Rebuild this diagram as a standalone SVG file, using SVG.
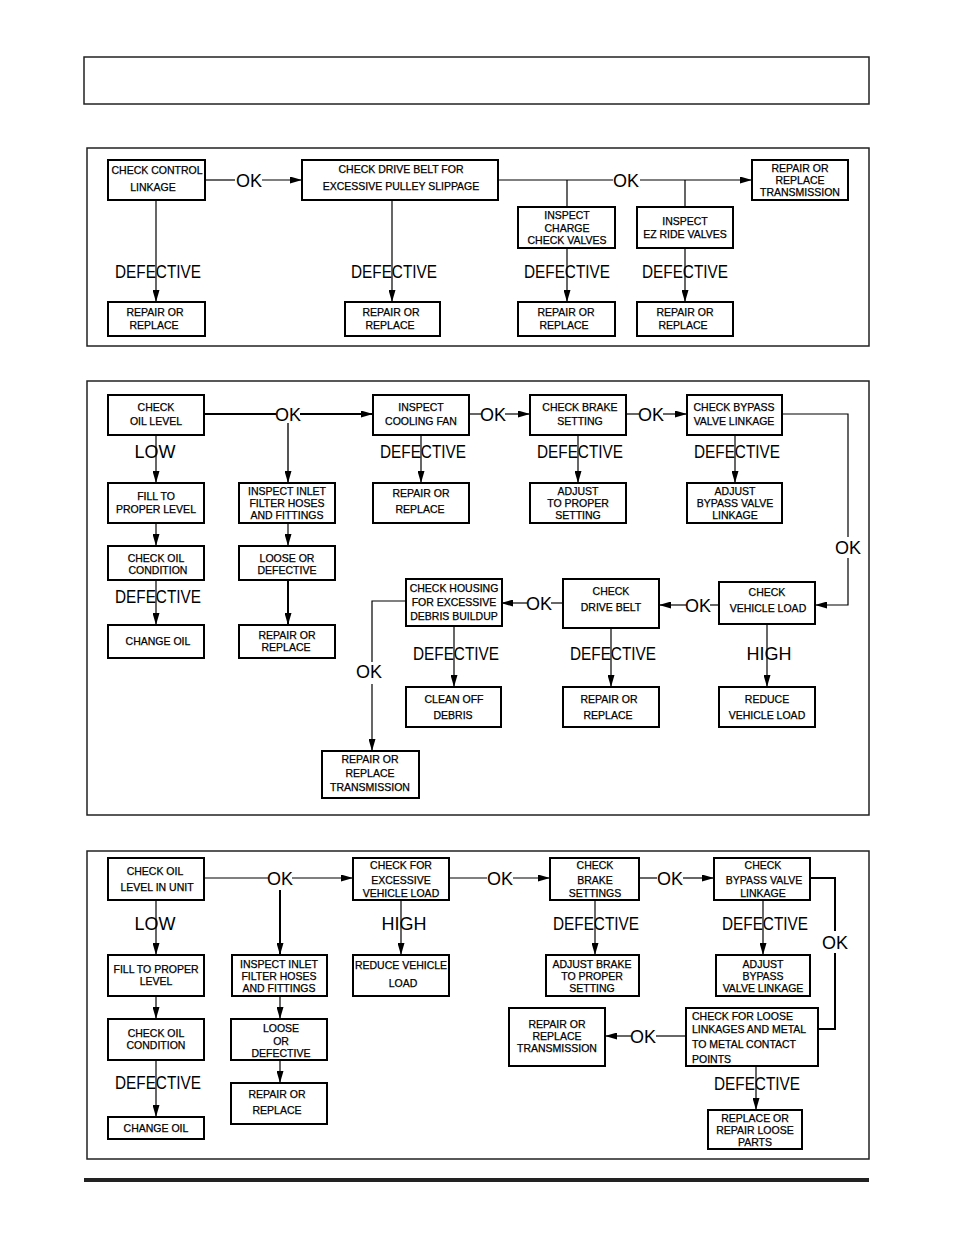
<svg xmlns="http://www.w3.org/2000/svg" width="954" height="1235" viewBox="0 0 954 1235">
<defs>
<style>
.frame{fill:none;stroke:#222;stroke-width:1.5}
.b{fill:#fff;stroke:#000;stroke-width:2}
.t{font-family:"Liberation Sans",Arial,sans-serif;font-size:10.5px;text-anchor:middle;fill:#000;stroke:#000;stroke-width:0.25}
.tl{font-family:"Liberation Sans",Arial,sans-serif;font-size:10.5px;text-anchor:start;fill:#000;stroke:#000;stroke-width:0.25}
.l{font-family:"Liberation Sans",Arial,sans-serif;font-size:18px;text-anchor:middle;fill:#000}
.c{stroke:#000;stroke-width:1.2;fill:none}
.ca{stroke:#000;stroke-width:1.2;fill:none;marker-end:url(#a)}
.thick{stroke-width:2}
</style>
<marker id="a" markerWidth="12" markerHeight="7" refX="12" refY="3.5" orient="auto" markerUnits="userSpaceOnUse">
<path d="M0,0 L12,3.5 L0,7 z" fill="#000"/>
</marker>
</defs>
<rect width="954" height="1235" fill="#fff"/>
<rect class="frame" x="84" y="57" width="785" height="47"/>
<rect class="frame" x="87" y="148" width="782" height="198"/>
<rect class="frame" x="87" y="381" width="782" height="434"/>
<rect class="frame" x="87" y="851" width="782" height="308"/>
<rect x="84" y="1178" width="785" height="4" fill="#222"/>

<g id="connectors">
<!-- section 1 -->
<path class="c" d="M205,180 H235"/>
<path class="ca" d="M262,180 H302"/>
<path class="c" d="M498,180 H613"/>
<path class="ca" d="M640,180 H752"/>
<path class="c" d="M567,180 V207 M685,180 V207"/>
<path class="ca" d="M156,200 V302"/>
<path class="ca" d="M392,200 V302"/>
<path class="ca" d="M567,248 V302"/>
<path class="ca" d="M685,248 V302"/>
<!-- section 2 -->
<path class="c thick" d="M204,414 H276"/>
<path class="ca thick" d="M300,414 H373"/>
<path class="ca thick" d="M288,423 V483" style="stroke:#555"/>
<path class="ca" d="M156,435 V483"/>
<path class="ca" d="M156,523 V546"/>
<path class="ca" d="M156,580 V625"/>
<path class="ca" d="M288,523 V546"/>
<path class="ca thick" d="M288,580 V625"/>
<path class="c" d="M469,414 H481"/>
<path class="ca" d="M505,414 H530"/>
<path class="ca" d="M421,435 V483"/>
<path class="c" d="M626,414 H639"/>
<path class="ca" d="M663,414 H687"/>
<path class="ca" d="M578,435 V483"/>
<path class="ca" d="M735,435 V483"/>
<path class="c" d="M782,414 H848 V537"/>
<path class="ca" d="M848,558 V605 H815"/>
<path class="c" d="M719,605 H710"/>
<path class="ca" d="M686,605 H659"/>
<path class="ca" d="M767,624 V687"/>
<path class="c" d="M563,603 H551"/>
<path class="ca" d="M527,603 H501"/>
<path class="ca" d="M611,628 V687"/>
<path class="ca" d="M454,626 V687"/>
<path class="c" d="M406,601 H372 V662"/>
<path class="ca" d="M372,684 V751"/>
<!-- section 3 -->
<path class="c" d="M204,878 H268"/>
<path class="ca" d="M292,878 H353"/>
<path class="ca thick" d="M280,890 V955"/>
<path class="ca" d="M156,900 V955"/>
<path class="ca" d="M156,996 V1019"/>
<path class="ca" d="M156,1060 V1117"/>
<path class="ca" d="M280,996 V1019"/>
<path class="ca" d="M280,1060 V1083"/>
<path class="c" d="M449,878 H487"/>
<path class="ca" d="M513,878 H550"/>
<path class="ca" d="M401,900 V955"/>
<path class="c" d="M639,878 H657"/>
<path class="ca" d="M683,878 H714"/>
<path class="ca" d="M595,900 V955"/>
<path class="ca" d="M763,900 V955"/>
<path class="c thick" d="M810,878 H835 V931"/>
<path class="c thick" d="M835,953 V1029 H818"/>
<path class="c" d="M686,1036 H656"/>
<path class="ca" d="M631,1036 H605"/>
<path class="ca" d="M756,1066 V1110"/>
</g>

<g id="labels">
<text class="l" x="249" y="187">OK</text>
<text class="l" x="626" y="187">OK</text>
<text class="l" x="158" y="278" textLength="86" lengthAdjust="spacingAndGlyphs">DEFECTIVE</text>
<text class="l" x="394" y="278" textLength="86" lengthAdjust="spacingAndGlyphs">DEFECTIVE</text>
<text class="l" x="567" y="278" textLength="86" lengthAdjust="spacingAndGlyphs">DEFECTIVE</text>
<text class="l" x="685" y="278" textLength="86" lengthAdjust="spacingAndGlyphs">DEFECTIVE</text>

<text class="l" x="288" y="421">OK</text>
<text class="l" x="493" y="421">OK</text>
<text class="l" x="651" y="421">OK</text>
<text class="l" x="155" y="458">LOW</text>
<text class="l" x="423" y="458" textLength="86" lengthAdjust="spacingAndGlyphs">DEFECTIVE</text>
<text class="l" x="580" y="458" textLength="86" lengthAdjust="spacingAndGlyphs">DEFECTIVE</text>
<text class="l" x="737" y="458" textLength="86" lengthAdjust="spacingAndGlyphs">DEFECTIVE</text>
<text class="l" x="158" y="603" textLength="86" lengthAdjust="spacingAndGlyphs">DEFECTIVE</text>
<text class="l" x="848" y="554">OK</text>
<text class="l" x="698" y="612">OK</text>
<text class="l" x="539" y="610">OK</text>
<text class="l" x="456" y="660" textLength="86" lengthAdjust="spacingAndGlyphs">DEFECTIVE</text>
<text class="l" x="613" y="660" textLength="86" lengthAdjust="spacingAndGlyphs">DEFECTIVE</text>
<text class="l" x="769" y="660">HIGH</text>
<text class="l" x="369" y="678">OK</text>

<text class="l" x="280" y="885">OK</text>
<text class="l" x="500" y="885">OK</text>
<text class="l" x="670" y="885">OK</text>
<text class="l" x="155" y="930">LOW</text>
<text class="l" x="404" y="930">HIGH</text>
<text class="l" x="596" y="930" textLength="86" lengthAdjust="spacingAndGlyphs">DEFECTIVE</text>
<text class="l" x="765" y="930" textLength="86" lengthAdjust="spacingAndGlyphs">DEFECTIVE</text>
<text class="l" x="835" y="949">OK</text>
<text class="l" x="643" y="1043">OK</text>
<text class="l" x="158" y="1089" textLength="86" lengthAdjust="spacingAndGlyphs">DEFECTIVE</text>
<text class="l" x="757" y="1090" textLength="86" lengthAdjust="spacingAndGlyphs">DEFECTIVE</text>
</g>

<!-- Section 1 nodes -->
<g id="n1"><rect class="b" x="108" y="160" width="97" height="40"/><text class="t" x="157" y="174">CHECK CONTROL</text><text class="t" x="153" y="191">LINKAGE</text></g>
<g id="n2"><rect class="b" x="302" y="160" width="196" height="40"/><text class="t" x="401" y="173">CHECK DRIVE BELT FOR</text><text class="t" x="401" y="190">EXCESSIVE PULLEY SLIPPAGE</text></g>
<g id="n3"><rect class="b" x="518" y="207" width="97" height="41"/><text class="t" x="567" y="219">INSPECT</text><text class="t" x="567" y="232">CHARGE</text><text class="t" x="567" y="244">CHECK VALVES</text></g>
<g id="n4"><rect class="b" x="637" y="207" width="96" height="41"/><text class="t" x="685" y="225">INSPECT</text><text class="t" x="685" y="238">EZ RIDE VALVES</text></g>
<g id="n5"><rect class="b" x="752" y="160" width="96" height="40"/><text class="t" x="800" y="172">REPAIR OR</text><text class="t" x="800" y="184">REPLACE</text><text class="t" x="800" y="196">TRANSMISSION</text></g>
<g id="n6"><rect class="b" x="108" y="302" width="97" height="34"/><text class="t" x="155" y="316">REPAIR OR</text><text class="t" x="154" y="329">REPLACE</text></g>
<g id="n7"><rect class="b" x="345" y="302" width="95" height="34"/><text class="t" x="391" y="316">REPAIR OR</text><text class="t" x="390" y="329">REPLACE</text></g>
<g id="n8"><rect class="b" x="518" y="302" width="97" height="34"/><text class="t" x="566" y="316">REPAIR OR</text><text class="t" x="564" y="329">REPLACE</text></g>
<g id="n9"><rect class="b" x="637" y="302" width="96" height="34"/><text class="t" x="685" y="316">REPAIR OR</text><text class="t" x="683" y="329">REPLACE</text></g>

<!-- Section 2 nodes -->
<g id="m1"><rect class="b" x="108" y="395" width="96" height="40"/><text class="t" x="156" y="411">CHECK</text><text class="t" x="156" y="425">OIL LEVEL</text></g>
<g id="m2"><rect class="b" x="373" y="395" width="96" height="40"/><text class="t" x="421" y="411">INSPECT</text><text class="t" x="421" y="425">COOLING FAN</text></g>
<g id="m3"><rect class="b" x="530" y="395" width="96" height="40"/><text class="t" x="580" y="411">CHECK BRAKE</text><text class="t" x="580" y="425">SETTING</text></g>
<g id="m4"><rect class="b" x="687" y="395" width="95" height="40"/><text class="t" x="734" y="411">CHECK BYPASS</text><text class="t" x="734" y="425">VALVE LINKAGE</text></g>
<g id="m5"><rect class="b" x="108" y="483" width="96" height="40"/><text class="t" x="156" y="500">FILL TO</text><text class="t" x="156" y="513">PROPER LEVEL</text></g>
<g id="m6"><rect class="b" x="239" y="483" width="96" height="40"/><text class="t" x="287" y="495">INSPECT INLET</text><text class="t" x="287" y="507">FILTER HOSES</text><text class="t" x="287" y="519">AND FITTINGS</text></g>
<g id="m7"><rect class="b" x="373" y="483" width="96" height="40"/><text class="t" x="421" y="497">REPAIR OR</text><text class="t" x="420" y="513">REPLACE</text></g>
<g id="m8"><rect class="b" x="530" y="483" width="96" height="40"/><text class="t" x="578" y="495">ADJUST</text><text class="t" x="578" y="507">TO PROPER</text><text class="t" x="578" y="519">SETTING</text></g>
<g id="m9"><rect class="b" x="687" y="483" width="95" height="40"/><text class="t" x="735" y="495">ADJUST</text><text class="t" x="735" y="507">BYPASS VALVE</text><text class="t" x="735" y="519">LINKAGE</text></g>
<g id="m10"><rect class="b" x="108" y="546" width="96" height="34"/><text class="t" x="156" y="562">CHECK OIL</text><text class="t" x="158" y="574">CONDITION</text></g>
<g id="m11"><rect class="b" x="239" y="546" width="96" height="34"/><text class="t" x="287" y="562">LOOSE OR</text><text class="t" x="287" y="574">DEFECTIVE</text></g>
<g id="m12"><rect class="b" x="108" y="625" width="96" height="33"/><text class="t" x="158" y="645">CHANGE OIL</text></g>
<g id="m13"><rect class="b" x="239" y="625" width="96" height="33"/><text class="t" x="287" y="639">REPAIR OR</text><text class="t" x="286" y="651">REPLACE</text></g>
<g id="m14"><rect class="b" x="406" y="579" width="96" height="47"/><text class="t" x="454" y="592">CHECK HOUSING</text><text class="t" x="454" y="606">FOR EXCESSIVE</text><text class="t" x="454" y="620">DEBRIS BUILDUP</text></g>
<g id="m15"><rect class="b" x="563" y="579" width="96" height="49"/><text class="t" x="611" y="595">CHECK</text><text class="t" x="611" y="611">DRIVE BELT</text></g>
<g id="m16"><rect class="b" x="719" y="582" width="96" height="42"/><text class="t" x="767" y="596">CHECK</text><text class="t" x="768" y="612">VEHICLE LOAD</text></g>
<g id="m17"><rect class="b" x="406" y="687" width="95" height="40"/><text class="t" x="454" y="703">CLEAN OFF</text><text class="t" x="453" y="719">DEBRIS</text></g>
<g id="m18"><rect class="b" x="563" y="687" width="96" height="40"/><text class="t" x="609" y="703">REPAIR OR</text><text class="t" x="608" y="719">REPLACE</text></g>
<g id="m19"><rect class="b" x="719" y="687" width="96" height="40"/><text class="t" x="767" y="703">REDUCE</text><text class="t" x="767" y="719">VEHICLE LOAD</text></g>
<g id="m20"><rect class="b" x="322" y="751" width="97" height="47"/><text class="t" x="370" y="763">REPAIR OR</text><text class="t" x="370" y="777">REPLACE</text><text class="t" x="370" y="791">TRANSMISSION</text></g>

<!-- Section 3 nodes -->
<g id="k1"><rect class="b" x="108" y="858" width="96" height="42"/><text class="t" x="155" y="875">CHECK OIL</text><text class="t" x="157" y="891">LEVEL IN UNIT</text></g>
<g id="k2"><rect class="b" x="353" y="858" width="96" height="42"/><text class="t" x="401" y="869">CHECK FOR</text><text class="t" x="401" y="884">EXCESSIVE</text><text class="t" x="401" y="897">VEHICLE LOAD</text></g>
<g id="k3"><rect class="b" x="550" y="858" width="89" height="42"/><text class="t" x="595" y="869">CHECK</text><text class="t" x="595" y="884">BRAKE</text><text class="t" x="595" y="897">SETTINGS</text></g>
<g id="k4"><rect class="b" x="714" y="858" width="96" height="42"/><text class="t" x="763" y="869">CHECK</text><text class="t" x="764" y="884">BYPASS VALVE</text><text class="t" x="763" y="897">LINKAGE</text></g>
<g id="k5"><rect class="b" x="108" y="955" width="96" height="41"/><text class="t" x="156" y="973">FILL TO PROPER</text><text class="t" x="156" y="985">LEVEL</text></g>
<g id="k6"><rect class="b" x="232" y="955" width="95" height="41"/><text class="t" x="279" y="968">INSPECT INLET</text><text class="t" x="279" y="980">FILTER HOSES</text><text class="t" x="279" y="992">AND FITTINGS</text></g>
<g id="k7"><rect class="b" x="353" y="955" width="96" height="41"/><text class="t" x="401" y="969">REDUCE VEHICLE</text><text class="t" x="403" y="987">LOAD</text></g>
<g id="k8"><rect class="b" x="546" y="955" width="93" height="41"/><text class="t" x="592" y="968">ADJUST BRAKE</text><text class="t" x="592" y="980">TO PROPER</text><text class="t" x="592" y="992">SETTING</text></g>
<g id="k9"><rect class="b" x="716" y="955" width="94" height="41"/><text class="t" x="763" y="968">ADJUST</text><text class="t" x="763" y="980">BYPASS</text><text class="t" x="763" y="992">VALVE LINKAGE</text></g>
<g id="k10"><rect class="b" x="108" y="1019" width="96" height="41"/><text class="t" x="156" y="1037">CHECK OIL</text><text class="t" x="156" y="1049">CONDITION</text></g>
<g id="k11"><rect class="b" x="231" y="1019" width="96" height="41"/><text class="t" x="281" y="1032">LOOSE</text><text class="t" x="281" y="1045">OR</text><text class="t" x="281" y="1057">DEFECTIVE</text></g>
<g id="k12"><rect class="b" x="509" y="1008" width="96" height="58"/><text class="t" x="557" y="1028">REPAIR OR</text><text class="t" x="557" y="1040">REPLACE</text><text class="t" x="557" y="1052">TRANSMISSION</text></g>
<g id="k13"><rect class="b" x="686" y="1008" width="132" height="58"/><text class="tl" x="692" y="1020">CHECK FOR LOOSE</text><text class="tl" x="692" y="1033">LINKAGES AND METAL</text><text class="tl" x="692" y="1048">TO METAL CONTACT</text><text class="tl" x="692" y="1063">POINTS</text></g>
<g id="k14"><rect class="b" x="108" y="1117" width="96" height="22"/><text class="t" x="156" y="1132">CHANGE OIL</text></g>
<g id="k15"><rect class="b" x="231" y="1083" width="96" height="41"/><text class="t" x="277" y="1098">REPAIR OR</text><text class="t" x="277" y="1114">REPLACE</text></g>
<g id="k16"><rect class="b" x="708" y="1110" width="94" height="39"/><text class="t" x="755" y="1122">REPLACE OR</text><text class="t" x="755" y="1134">REPAIR LOOSE</text><text class="t" x="755" y="1146">PARTS</text></g>
</svg>
